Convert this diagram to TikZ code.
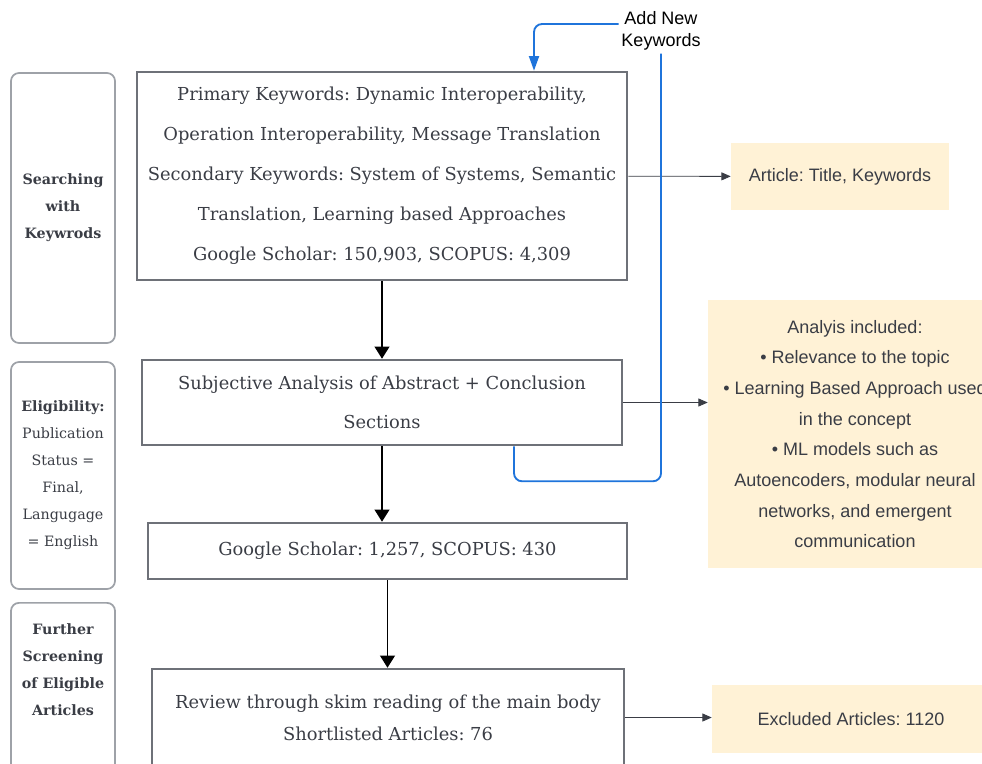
\documentclass[tikz,border=0pt]{standalone}
\usepackage{fontspec}
\setmainfont{DejaVu Serif}
\setsansfont{Liberation Sans}
\usetikzlibrary{arrows.meta}
\usetikzlibrary{positioning,calc}
\definecolor{boxgray}{RGB}{110,113,120}
\definecolor{stagegray}{RGB}{158,162,168}
\definecolor{inkgray}{RGB}{58,61,69}
\definecolor{noteyellow}{RGB}{255,242,214}
\definecolor{loopblue}{RGB}{31,116,219}
\frenchspacing
\tikzset{
	every node/.style={text=inkgray}
}
\tikzset{
	x=0.75pt,y=-0.75pt,
	main node/.style={rectangle,draw=boxgray,line width=1.9pt,align=center,inner sep=0pt},
	stage node/.style={rectangle,rounded corners=6pt,draw=stagegray,line width=1.3pt,align=center,minimum width=78pt,font=\fontsize{10.7pt}{20.25pt}\selectfont},
	stage text/.style={align=center,font=\fontsize{10.7pt}{20.25pt}\selectfont\bfseries},
	note node/.style={rectangle,fill=noteyellow,align=center,font=\sffamily\fontsize{13.5pt}{23pt}\selectfont},
	flow arrow/.style={-{Triangle[width=11pt,length=9pt]},line width=1.1pt,black},
	side arrow/.style={-{Triangle[width=6pt,length=7pt]},line width=0.6pt,inkgray},
	loop line/.style={line width=1.4pt,draw=loopblue,rounded corners=6pt}
}

\begin{document}
\begin{tikzpicture}
	\useasboundingbox (0,0) rectangle (982,764);
	\clip (0,0) rectangle (982,764);
	\node[stage node,minimum height=202.5pt,font=\fontsize{10.7pt}{20.25pt}\selectfont\bfseries] (searching) at (63,208) {Searching\\with\\Keywrods};
	\node[stage node,minimum height=170.25pt] (eligibility) at (63,475.5) {\textbf{Eligibility:}\\Publication\\Status =\\Final,\\Langugage\\= English};
	\node[stage node,minimum height=150pt,anchor=north,label={[stage text,anchor=north,yshift=-13pt]north:{Further\\Screening\\of Eligible\\Articles}}] (further) at (63,602) {};
	\node[main node,minimum width=367.5pt,minimum height=156pt,font=\fontsize{13.4pt}{30pt}\selectfont] (search) at (382,176) {Primary Keywords: Dynamic Interoperability,\\Operation Interoperability, Message Translation\\Secondary Keywords: System of Systems, Semantic\\Translation, Learning based Approaches\\Google Scholar: 150,903, SCOPUS: 4,309};
	\node[main node,minimum width=360pt,minimum height=63.75pt,font=\fontsize{13.4pt}{29pt}\selectfont] (screen) at (382,402.5) {Subjective Analysis of Abstract + Conclusion\\Sections};
	\node[main node,minimum width=359.25pt,minimum height=42pt,font=\fontsize{13.4pt}{29pt}\selectfont] (counts) at (387.5,551) {Google Scholar: 1,257, SCOPUS: 430};
	\node[main node,minimum width=354pt,minimum height=72.75pt,font=\fontsize{13.4pt}{24pt}\selectfont] (review) at (388,717.5) {Review through skim reading of the main body\\Shortlisted Articles: 76};
	\node[note node,minimum width=163.5pt,minimum height=50.25pt] (article) at (840,176.5) {Article: Title, Keywords};
	\node[note node,minimum width=220.5pt,minimum height=201pt] (analysis) at (855,434) {Analyis included:\\• Relevance to the topic\\• Learning Based Approach used\\in the concept\\• ML models such as\\Autoencoders, modular neural\\networks, and emergent\\communication};
	\node[note node,minimum width=208.5pt,minimum height=51pt] (excluded) at (851,719) {Excluded Articles: 1120};
	\node[font=\sffamily\fontsize{13.5pt}{17pt}\selectfont,align=center,text=black,inner sep=2pt] (newkw) at (661,31) {Add New\\Keywords};
	\draw[flow arrow] (search) -- (screen);
	\draw[flow arrow] (screen) -- (screen.south |- counts.north);
	\draw[flow arrow] (counts) -- (counts.south |- review.north);
	\draw[side arrow] (search) -- (article);
	\draw[side arrow] (screen.east) -- (screen.east -| analysis.west);
	\draw[side arrow] (review.east) -- (review.east -| excluded.west);
	\draw[loop line] ($(screen.south)+(132,0)$) -- ++(0,35) -| (newkw.south);
	\draw[loop line,-{Triangle[width=7.5pt,length=11pt]}] ($(newkw.west)+(0,-7)$) -| ($(search.north)+(152,0)$);
\end{tikzpicture}
\end{document}
